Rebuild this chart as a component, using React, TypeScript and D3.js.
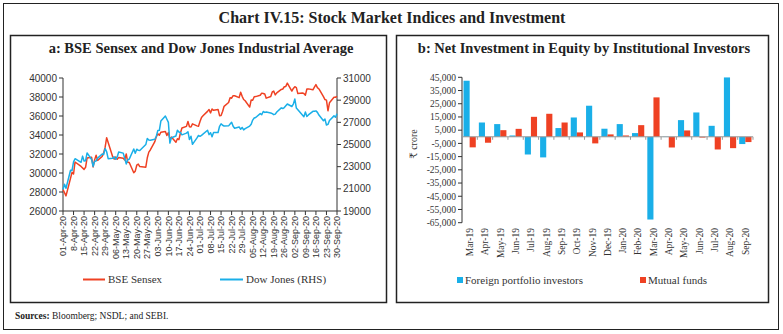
import React from 'react';
import * as d3 from 'd3';

// ---------- Panel a data ----------
const weekLabels = ['01-Apr-20','8-Apr-20','15-Apr-20','22-Apr-20','29-Apr-20','06-May-20','13-May-20','20-May-20','27-May-20','03-Jun-20','10-Jun-20','17-Jun-20','24-Jun-20','01-Jul-20','08-Jul-20','15-Jul-20','22-Jul-20','29-Jul-20','05-Aug-20','12-Aug-20','19-Aug-20','26-Aug-20','02-Sep-20','09-Sep-20','16-Sep-20','23-Sep-20','30-Sep-20'];

const sensexDates = ['04-01','04-03','04-07','04-08','04-09','04-13','04-15','04-16','04-17','04-20','04-21','04-22','04-23','04-24','04-27','04-28','04-29','04-30','05-04','05-05','05-06','05-07','05-08','05-11','05-12','05-13','05-14','05-15','05-18','05-19','05-20','05-21','05-22','05-26','05-27','05-28','05-29','06-01','06-02','06-03','06-04','06-05','06-08','06-09','06-10','06-11','06-12','06-15','06-16','06-17','06-18','06-19','06-22','06-23','06-24','06-25','06-26','06-29','06-30','07-01','07-02','07-03','07-06','07-07','07-08','07-09','07-10','07-13','07-14','07-15','07-16','07-17','07-20','07-21','07-22','07-23','07-24','07-27','07-28','07-29','07-30','07-31','08-03','08-04','08-05','08-06','08-07','08-10','08-11','08-12','08-13','08-14','08-17','08-18','08-19','08-20','08-21','08-24','08-25','08-26','08-27','08-28','08-31','09-01','09-02','09-03','09-04','09-07','09-08','09-09','09-10','09-11','09-14','09-15','09-16','09-17','09-18','09-21','09-22','09-23','09-24','09-25','09-28','09-29','09-30'];
const sensexValues = [28265,27591,30067,29894,31160,30690,30380,30603,31589,31648,30637,31380,31863,31327,31743,32115,32720,33718,31715,31454,31686,31443,31643,31561,31371,32009,31123,31098,30029,30196,30819,30933,30673,30609,31605,32201,32424,33304,33826,34110,33981,34287,34371,33957,34247,33538,33781,33229,33605,33508,34208,34732,34911,35430,34869,34842,35171,34962,34916,35414,35844,36021,36487,36675,36329,36738,36594,36694,36033,36052,36472,37020,37419,37930,37872,38140,38129,37935,38493,38071,37736,37607,36940,37688,37663,38025,38041,38182,38407,38370,38310,37877,38051,38528,38615,38220,38435,38799,38844,39074,39113,39467,38628,38901,39086,38991,38357,38417,38365,38194,38840,38855,38757,39044,39303,38980,38846,38034,37734,37668,36554,37389,37982,37973,38068];

const dowDates = ['04-01','04-02','04-03','04-06','04-07','04-08','04-09','04-13','04-14','04-15','04-16','04-17','04-20','04-21','04-22','04-23','04-24','04-27','04-28','04-29','04-30','05-01','05-04','05-05','05-06','05-07','05-08','05-11','05-12','05-13','05-14','05-15','05-18','05-19','05-20','05-21','05-22','05-26','05-27','05-28','05-29','06-01','06-02','06-03','06-04','06-05','06-08','06-09','06-10','06-11','06-12','06-15','06-16','06-17','06-18','06-19','06-22','06-23','06-24','06-25','06-26','06-29','06-30','07-01','07-02','07-06','07-07','07-08','07-09','07-10','07-13','07-14','07-15','07-16','07-17','07-20','07-21','07-22','07-23','07-24','07-27','07-28','07-29','07-30','07-31','08-03','08-04','08-05','08-06','08-07','08-10','08-11','08-12','08-13','08-14','08-17','08-18','08-19','08-20','08-21','08-24','08-25','08-26','08-27','08-28','08-31','09-01','09-02','09-03','09-04','09-08','09-09','09-10','09-11','09-14','09-15','09-16','09-17','09-18','09-21','09-22','09-23','09-24','09-25','09-28','09-29','09-30'];
const dowValues = [20944,21413,21053,22680,22654,23434,23719,23391,23950,23504,23538,24242,23650,23019,23476,23515,23775,24134,24102,24634,24346,23724,23750,23883,23665,23876,24331,24222,23765,23248,23625,23685,24597,24207,24576,24474,24465,24995,25548,25401,25383,25475,25742,26270,26282,27111,27572,27273,26990,25128,25606,25763,26290,26120,26080,25871,26025,26156,25446,25746,25016,25596,25813,25735,25827,26287,25891,26067,25706,26075,26086,26643,26870,26735,26672,26681,26840,27005,26653,26470,26585,26379,26540,26314,26428,26665,26828,27202,27387,27433,27791,27687,27977,27897,27931,27845,27779,27693,27740,27931,28308,28249,28332,28492,28654,28430,28646,29100,28292,28133,27501,27940,27535,27666,27993,27996,28032,27902,27657,27148,27288,26763,26815,27174,27584,27452,27782];

const sensexTicks = [26000,28000,30000,32000,34000,36000,38000,40000];
const dowTicks = [19000,21000,23000,25000,27000,29000,31000];

// ---------- Panel b data ----------
const months = ['Mar-19','Apr-19','May-19','Jun-19','Jul-19','Aug-19','Sep-19','Oct-19','Nov-19','Dec-19','Jan-20','Feb-20','Mar-20','Apr-20','May-20','Jun-20','Jul-20','Aug-20','Sep-20'];
const fpi = [42400,10800,9600,1000,-13400,-15600,6600,14600,23500,6100,9600,2800,-62600,-200,12600,18400,8300,44900,-5500];
const mf = [-8000,-4500,5000,6000,15100,17400,10800,3300,-5000,1800,1000,8800,29800,-8100,4800,-600,-9600,-8600,-4000];
const investTicks = [45000,35000,25000,15000,5000,-5000,-15000,-25000,-35000,-45000,-55000,-65000];

const RED = '#EF4123';
const BLUE = '#1AAFE8';
const SERIF = '"Liberation Serif", "DejaVu Serif", serif';
const SANS = '"Liberation Sans", Arial, sans-serif';

export default function App() {
  const W = 783, H = 334;
  const parseMD = (s: string) => new Date(2020, +s.slice(0, 2) - 1, +s.slice(3, 5));
  const parseWeek = d3.timeParse('%d-%b-%y');

  // Panel a scales
  const x = d3.scaleTime().domain([new Date(2020, 3, 1), new Date(2020, 8, 30)]).range([63, 337]);
  const yL = d3.scaleLinear().domain([26000, 40000]).range([211, 78]);
  const yR = d3.scaleLinear().domain([19000, 31000]).range([211, 78]);
  const sensexPts = sensexDates.map((d, i) => [x(parseMD(d)), yL(sensexValues[i])] as [number, number]);
  const dowPts = dowDates.map((d, i) => [x(parseMD(d)), yR(dowValues[i])] as [number, number]);
  const line = d3.line();

  // Panel b scales
  const xb = d3.scaleBand().domain(months).range([462, 753]).paddingInner(0.2).paddingOuter(0.1);
  const yb = d3.scaleLinear().domain([-65000, 45000]).range([222.7, 77.3]);
  const bw = xb.bandwidth() / 2;
  const fmt = d3.format(',');
  const step = xb.step();

  return (
    <svg width={W} height={H} style={{ position: 'absolute', left: 0, top: 0, background: '#fff' }}>
      <rect x={3.5} y={3.5} width={775} height={326} fill="#fff" stroke="#222" strokeWidth={1} />
      <text x={392} y={23} textAnchor="middle" fontFamily={SERIF} fontWeight="bold" fontSize={16} fill="#222">
        Chart IV.15: Stock Market Indices and Investment
      </text>

      {/* Panel a */}
      <rect x={10.5} y={35.5} width={376} height={267} fill="none" stroke="#222" strokeWidth={1.5} />
      <text x={201} y={53} textAnchor="middle" fontFamily={SERIF} fontWeight="bold" fontSize={14.5} fill="#222">
        a: BSE Sensex and Dow Jones Industrial Average
      </text>
      <g fontFamily={SANS} fontSize={10} fill="#333">
        <line x1={63} x2={63} y1={78} y2={211} stroke="#333" />
        {sensexTicks.map(t => (
          <g key={'l' + t}>
            <line x1={59} x2={63} y1={yL(t)} y2={yL(t)} stroke="#333" />
            <text x={57} y={yL(t)} dy="0.35em" textAnchor="end">{t}</text>
          </g>
        ))}
        <line x1={337} x2={337} y1={78} y2={211} stroke="#333" />
        {dowTicks.map(t => (
          <g key={'r' + t}>
            <line x1={337} x2={341} y1={yR(t)} y2={yR(t)} stroke="#333" />
            <text x={343} y={yR(t)} dy="0.35em" textAnchor="start">{t}</text>
          </g>
        ))}
        <line x1={63} x2={337} y1={211} y2={211} stroke="#333" />
        {weekLabels.map(l => {
          const px = x(parseWeek(l) as Date);
          return (
            <g key={l}>
              <line x1={px} x2={px} y1={211} y2={215} stroke="#333" />
              <text transform={`translate(${px},216) rotate(-90)`} dy="0.35em" textAnchor="end" fontSize={9}>{l}</text>
            </g>
          );
        })}
      </g>
      <path d={line(sensexPts) || ''} fill="none" stroke={RED} strokeWidth={1.5} strokeLinejoin="round" />
      <path d={line(dowPts) || ''} fill="none" stroke={BLUE} strokeWidth={1.5} strokeLinejoin="round" />
      <g fontFamily={SERIF} fontSize={11} fill="#333">
        <line x1={83} x2={105} y1={279.5} y2={279.5} stroke={RED} strokeWidth={2} />
        <text x={108} y={283}>BSE Sensex</text>
        <line x1={220} x2={243} y1={279.5} y2={279.5} stroke={BLUE} strokeWidth={2} />
        <text x={246} y={283}>Dow Jones (RHS)</text>
      </g>

      {/* Panel b */}
      <rect x={396.5} y={35.5} width={372} height={267} fill="none" stroke="#222" strokeWidth={1.5} />
      <text x={584} y={53} textAnchor="middle" fontFamily={SERIF} fontWeight="bold" fontSize={14.5} fill="#222">
        b: Net Investment in Equity by Institutional Investors
      </text>
      {months.map((m, i) => (
        <g key={m}>
          <rect x={xb(m)} y={yb(Math.max(0, fpi[i]))} width={bw} height={Math.abs(yb(fpi[i]) - yb(0))} fill={BLUE} />
          <rect x={(xb(m) as number) + bw} y={yb(Math.max(0, mf[i]))} width={bw} height={Math.abs(yb(mf[i]) - yb(0))} fill={RED} />
        </g>
      ))}
      <g fontFamily={SERIF} fontSize={9.5} fill="#333">
        <line x1={462} x2={462} y1={yb(45000)} y2={yb(-65000)} stroke="#333" />
        {investTicks.map(t => (
          <g key={'b' + t}>
            <line x1={458} x2={462} y1={yb(t)} y2={yb(t)} stroke="#333" />
            <text x={456} y={yb(t)} dy="0.35em" textAnchor="end">{fmt(t).replace('−', '-')}</text>
          </g>
        ))}
        <line x1={462} x2={753} y1={yb(0)} y2={yb(0)} stroke="#999" />
        {months.map((m, i) => (
          <line key={'t' + m} x1={462 + step * (i + 1)} x2={462 + step * (i + 1)} y1={yb(0)} y2={yb(0) + 3} stroke="#999" />
        ))}
        {months.map(m => (
          <text key={'x' + m} transform={`translate(${(xb(m) as number) + xb.bandwidth() / 2},228) rotate(-90)`} dy="0.35em" textAnchor="end" fontSize={9.5}>{m}</text>
        ))}
        <text transform="translate(417,144) rotate(-90)" textAnchor="middle" fontSize={10}>₹ crore</text>
      </g>
      <g fontFamily={SERIF} fontSize={11} fill="#333">
        <rect x={457} y={277} width={6} height={6} fill={BLUE} />
        <text x={465} y={283.5}>Foreign portfolio investors</text>
        <rect x={640} y={277} width={6} height={6} fill={RED} />
        <text x={648} y={283.5}>Mutual funds</text>
      </g>

      <text x={15} y={319} fontFamily={SERIF} fontSize={9.5} fill="#222">
        <tspan fontWeight="bold">Sources:</tspan> Bloomberg; NSDL; and SEBI.
      </text>
    </svg>
  );
}
